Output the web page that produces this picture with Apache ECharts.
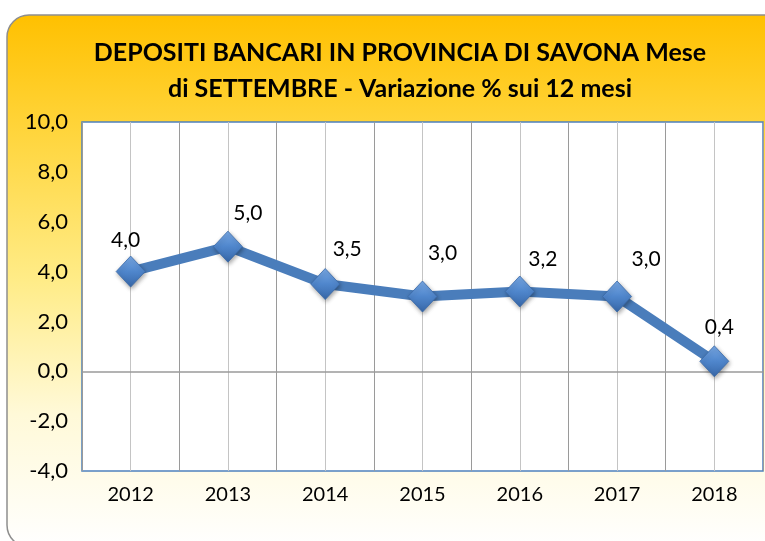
<!DOCTYPE html>
<html>
<head>
<meta charset="utf-8">
<script src="https://cdn.jsdelivr.net/npm/echarts@6/dist/echarts.min.js"></script>
<style>
  html, body { margin: 0; padding: 0; background: #ffffff; }
  #chart { width: 765px; height: 541px; }
</style>
</head>
<body>
<div id="chart"></div>
<script>
// Yearly data: bank deposits in the province of Savona, September, % change over 12 months
const years = ['2012', '2013', '2014', '2015', '2016', '2017', '2018'];
const changePct = [4.0, 5.0, 3.5, 3.0, 3.2, 3.0, 0.4];
const titleLines = ['DEPOSITI BANCARI IN PROVINCIA DI SAVONA Mese', 'di SETTEMBRE - Variazione % sui 12 mesi'];
const yMin = -4, yMax = 10, yStep = 2;

// Hand-placed label nudges (pixels) for each point's value label
const labelNudge = [[-5, -31], [20, -33], [22, -35], [20, -43], [23, -32], [29, -37], [5, -34]];

const FONT = 'Lato';
const fmt = v => v.toFixed(1).replace('.', ',');

const chart = echarts.init(document.getElementById('chart'), null, { renderer: 'canvas' });

const option = {
  animation: false,
  backgroundColor: '#ffffff',
  graphic: [{
    type: 'rect',
    z: -10,
    silent: true,
    shape: { x: 7, y: 15, width: 800, height: 532, r: 22 },
    style: {
      fill: new echarts.graphic.LinearGradient(0, 0, 0, 1, [
        { offset: 0, color: '#FFC000' },
        { offset: 0.22, color: '#FFD53C' },
        { offset: 0.5, color: '#FFEC88' },
        { offset: 0.75, color: '#FFF9D8' },
        { offset: 1, color: '#FFFFFF' }
      ]),
      stroke: '#8E8E8E',
      lineWidth: 1.5
    }
  }],
  title: {
    text: titleLines.join('\n'),
    left: 395,
    top: 30,
    textAlign: 'center',
    textStyle: {
      fontFamily: FONT,
      fontWeight: 'bold',
      fontSize: 25,
      lineHeight: 36,
      color: '#000000'
    }
  },
  grid: {
    left: 82, right: 2, top: 122, bottom: 70,
    show: true,
    backgroundColor: '#ffffff',
    borderColor: '#4F81BD',
    borderWidth: 1.5
  },
  xAxis: [{
    type: 'category',
    data: years,
    boundaryGap: true,
    z: 3,
    axisLine: { show: false },
    axisTick: { show: false },
    axisLabel: { fontFamily: FONT, fontSize: 20, color: '#000000', margin: 14 },
    splitLine: { show: true, lineStyle: { color: '#9A9A9A', width: 1 } }
  }, {
    type: 'category',
    data: years.flatMap(y => [y + 'a', y + 'b']),
    boundaryGap: true,
    position: 'bottom',
    z: 2,
    axisLine: { show: false },
    axisTick: { show: false },
    axisLabel: { show: false },
    splitLine: { show: true, lineStyle: { color: '#C4C4C4', width: 1 } }
  }],
  yAxis: {
    type: 'value',
    min: yMin, max: yMax, interval: yStep,
    axisLine: { show: false },
    axisTick: { show: false },
    splitLine: { show: false },
    axisLabel: { fontFamily: FONT, fontSize: 22, color: '#000000', margin: 14, formatter: v => fmt(v) }
  },
  series: [{
    type: 'line',
    xAxisIndex: 0,
    data: changePct.map((v, i) => ({
      value: v,
      label: { offset: labelNudge[i] }
    })),
    lineStyle: { color: '#4A7DBB', width: 10 },
    symbol: 'diamond',
    symbolSize: [29, 31],
    itemStyle: {
      color: new echarts.graphic.LinearGradient(0, 0, 0, 1, [
        { offset: 0, color: '#7AAAE6' },
        { offset: 0.5, color: '#4F86CC' },
        { offset: 1, color: '#3767A8' }
      ]),
      borderColor: '#3A69A8',
      borderWidth: 0.8,
      shadowBlur: 4,
      shadowColor: 'rgba(0,0,0,0.35)',
      shadowOffsetX: 1,
      shadowOffsetY: 2
    },
    label: {
      show: true,
      position: 'inside',
      fontFamily: FONT,
      fontSize: 21,
      color: '#000000',
      formatter: p => fmt(p.value)
    },
    markLine: {
      silent: true,
      symbol: 'none',
      label: { show: false },
      lineStyle: { color: '#9A9A9A', type: 'solid', width: 1.5 },
      data: [{ yAxis: 0 }]
    },
    z: 5
  }]
};

chart.setOption(option);
</script>
</body>
</html>
